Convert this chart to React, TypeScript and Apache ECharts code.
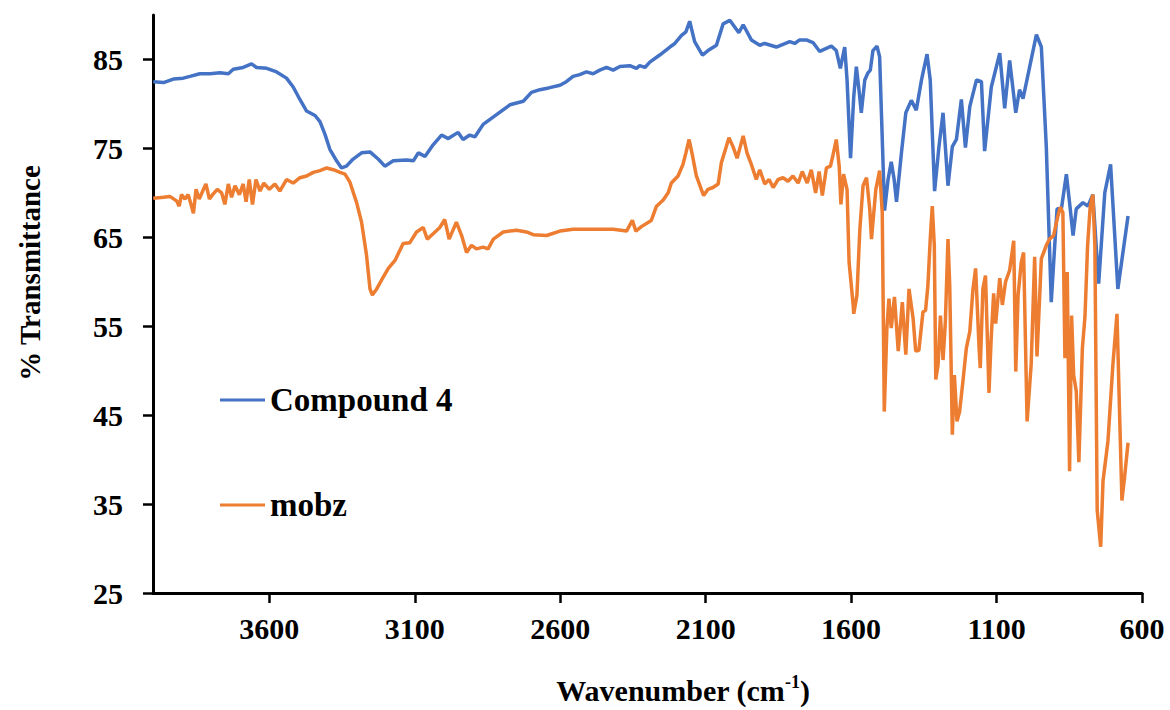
import React, { useEffect, useRef } from "react";
import * as echarts from "echarts";

// Compound 4 (blue) — wavenumber (cm-1) and % transmittance
const compoundWn = [
  3999, 3964, 3930, 3896, 3873, 3839, 3804, 3770, 3741, 3724, 3690, 3661, 3644, 3609, 3575, 3541, 3518, 3495, 3472, 3443,
  3426, 3409, 3392, 3369, 3352, 3335, 3312, 3283, 3254, 3226, 3203, 3174, 3128, 3105, 3088, 3065, 3037, 3008, 2985, 2951,
  2934, 2911, 2893, 2865, 2819, 2773, 2727, 2699, 2670, 2640, 2601, 2579, 2556, 2533, 2510, 2487, 2464, 2441, 2418, 2395,
  2361, 2338, 2327, 2309, 2292, 2258, 2223, 2206, 2183, 2168, 2155, 2138, 2111, 2092, 2063, 2040, 2017, 1986, 1971, 1943,
  1914, 1897, 1857, 1834, 1811, 1794, 1777, 1754, 1731, 1708, 1668, 1651, 1637, 1622, 1614, 1602, 1591, 1582, 1573, 1565,
  1553, 1542, 1534, 1525, 1511, 1502, 1485, 1473, 1462, 1452, 1444, 1427, 1412, 1393, 1376, 1358, 1339, 1328, 1313, 1298,
  1284, 1267, 1252, 1238, 1221, 1207, 1192, 1169, 1152, 1141, 1118, 1089, 1072, 1055, 1034, 1021, 1009, 986, 963, 946,
  929, 912, 900, 892, 877, 860, 849, 837, 826, 803, 786, 769, 749, 728, 708, 683, 648
];
const compoundT = [
  82.5, 82.4, 82.8, 82.9, 83.1, 83.4, 83.4, 83.5, 83.4, 83.9, 84.1, 84.5, 84.1, 84.0, 83.6, 82.9, 81.9, 80.5, 79.2, 78.7,
  78.0, 76.6, 74.9, 73.6, 72.8, 73.0, 73.8, 74.5, 74.6, 73.8, 73.0, 73.6, 73.7, 73.6, 74.5, 74.1, 75.4, 76.5, 76.1, 76.8,
  76.0, 76.5, 76.3, 77.7, 78.8, 79.9, 80.3, 81.3, 81.6, 81.8, 82.1, 82.5, 83.1, 83.3, 83.6, 83.4, 83.8, 84.1, 83.8, 84.2,
  84.3, 84.0, 84.3, 84.1, 84.7, 85.5, 86.4, 86.8, 87.7, 88.1, 89.3, 87.0, 85.5, 86.0, 86.6, 89.0, 89.4, 88.0, 88.9, 87.2,
  86.6, 86.8, 86.4, 86.7, 87.0, 86.8, 87.2, 87.2, 86.9, 85.9, 86.5, 86.0, 84.0, 86.4, 82.7, 73.9, 80.8, 84.2, 81.6, 79.0,
  82.7, 83.5, 83.8, 86.0, 86.5, 85.3, 68.0, 71.5, 73.5, 71.5, 69.0, 74.5, 79.0, 80.4, 79.3, 82.7, 85.6, 82.7, 70.2, 75.2,
  79.0, 70.8, 75.2, 76.0, 80.5, 75.1, 79.7, 82.7, 82.5, 74.7, 81.9, 85.7, 79.5, 84.9, 79.0, 81.6, 80.6, 84.2, 87.8, 86.4,
  75.2, 57.7, 64.1, 68.2, 68.2, 72.1, 68.9, 65.2, 68.2, 68.9, 68.5, 69.8, 59.8, 70.0, 73.2, 59.2, 67.4
];

// mobz (orange)
const mobzWn = [
  3999, 3964, 3942, 3919, 3910, 3902, 3890, 3879, 3871, 3861, 3852, 3841, 3829, 3818, 3806, 3795, 3779, 3764, 3753, 3741,
  3730, 3718, 3703, 3690, 3680, 3669, 3658, 3646, 3632, 3619, 3600, 3581, 3564, 3541, 3518, 3495, 3472, 3449, 3426, 3403,
  3380, 3357, 3340, 3323, 3300, 3283, 3266, 3254, 3246, 3231, 3214, 3191, 3168, 3140, 3117, 3094, 3071, 3057, 3037, 3014,
  2997, 2982, 2957, 2939, 2922, 2905, 2888, 2865, 2848, 2830, 2796, 2750, 2716, 2693, 2647, 2601, 2556, 2510, 2464, 2418,
  2372, 2352, 2340, 2321, 2287, 2269, 2246, 2229, 2218, 2195, 2178, 2168, 2157, 2146, 2132, 2115, 2107, 2092, 2075, 2057,
  2046, 2029, 2020, 2006, 1992, 1981, 1971, 1958, 1943, 1926, 1914, 1897, 1882, 1868, 1851, 1834, 1817, 1800, 1782, 1768,
  1751, 1737, 1722, 1710, 1699, 1685, 1671, 1662, 1651, 1641, 1635, 1626, 1614, 1607, 1593, 1591, 1580, 1570, 1559, 1547,
  1536, 1530, 1515, 1502, 1493, 1486, 1477, 1470, 1462, 1451, 1438, 1424, 1412, 1401, 1387, 1378, 1367, 1353, 1344, 1336,
  1328, 1321, 1314, 1309, 1301, 1293, 1284, 1276, 1267, 1261, 1252, 1245, 1236, 1227, 1215, 1204, 1192, 1181, 1172, 1160,
  1156, 1147, 1138, 1126, 1119, 1110, 1103, 1089, 1080, 1069, 1055, 1041, 1034, 1026, 1015, 1007, 995, 981, 969, 961,
  946, 929, 918, 904, 889, 881, 872, 865, 857, 849, 842, 835, 826, 817, 805, 796, 787, 778, 769, 762,
  754, 742, 734, 717, 700, 686, 677, 669, 660, 648
];
const mobzT = [
  69.4, 69.5, 69.6, 69.1, 68.5, 69.8, 69.3, 69.8, 68.9, 67.7, 70.4, 69.3, 70.2, 71.0, 69.3, 69.8, 70.4, 70.0, 68.7, 71.0,
  69.5, 70.8, 69.8, 71.0, 69.0, 71.5, 68.7, 71.5, 70.2, 71.1, 70.4, 71.0, 70.2, 71.5, 71.1, 71.7, 71.9, 72.3, 72.5, 72.8,
  72.6, 72.3, 72.1, 71.2, 68.9, 66.7, 63.0, 59.2, 58.5, 59.2, 60.2, 61.5, 62.4, 64.3, 64.4, 65.6, 66.1, 64.8, 65.4, 66.1,
  67.0, 64.8, 66.7, 65.2, 63.3, 64.1, 63.7, 63.9, 63.7, 64.8, 65.6, 65.8, 65.6, 65.3, 65.2, 65.7, 65.9, 65.9, 65.9, 65.9,
  65.7, 66.9, 65.7, 66.2, 66.9, 68.5, 69.2, 70.0, 71.1, 71.9, 73.2, 74.5, 76.0, 74.3, 71.9, 70.4, 69.7, 70.4, 70.6, 71.0,
  73.4, 75.2, 76.2, 75.2, 73.9, 75.2, 76.4, 74.5, 73.2, 71.5, 72.6, 71.0, 71.5, 70.6, 71.5, 71.7, 71.3, 71.9, 71.1, 72.4,
  71.1, 72.6, 70.0, 72.4, 69.7, 72.8, 73.0, 74.3, 76.0, 73.0, 68.7, 72.1, 70.4, 62.2, 57.4, 56.4, 58.5, 65.9, 70.8, 71.7,
  68.2, 64.8, 70.4, 72.5, 67.8, 45.4, 54.8, 58.1, 54.8, 58.3, 52.2, 57.7, 51.8, 59.2, 55.9, 52.2, 52.3, 56.6, 56.8, 59.6,
  64.8, 68.5, 64.1, 49.0, 50.7, 56.2, 51.2, 55.5, 64.8, 59.6, 42.8, 49.5, 44.3, 45.4, 49.0, 52.5, 54.4, 59.2, 61.5, 52.5,
  50.3, 59.2, 60.7, 47.5, 53.3, 58.7, 55.3, 60.4, 57.4, 60.0, 61.3, 64.6, 49.9, 58.5, 62.2, 63.3, 44.3, 50.7, 62.8, 51.6,
  62.6, 64.1, 64.8, 65.2, 67.4, 68.4, 67.8, 51.4, 61.1, 38.7, 56.2, 49.5, 47.7, 39.7, 52.5, 56.1, 64.1, 68.5, 69.8, 64.1,
  34.3, 30.2, 37.6, 42.1, 50.7, 56.4, 45.1, 35.4, 38.0, 41.9
];

const xTicks = [600, 1100, 1600, 2100, 2600, 3100, 3600];
const yTicks = [25, 35, 45, 55, 65, 75, 85];
const seriesNames = ["Compound 4", "mobz"];

const FONT = "'Liberation Serif', 'DejaVu Serif', serif";

export default function App() {
  const ref = useRef<HTMLDivElement>(null);
  useEffect(() => {
    document.body.style.margin = "0";
    if (!ref.current) return;
    const chart = echarts.init(ref.current, undefined, { renderer: "svg" });
    const blue = compoundWn.map((w, i) => [w, compoundT[i]]);
    const orange = mobzWn.map((w, i) => [w, mobzT[i]]);
    const legendText = { fontFamily: FONT, fontWeight: "bold", fontSize: 33, color: "#000", lineHeight: 36 };
    chart.setOption({
      animation: false,
      backgroundColor: "#fff",
      grid: { left: 153, right: 28, top: 15, bottom: 117, containLabel: false },
      legend: [
        {
          data: [seriesNames[0]], left: 220, top: 382, padding: 0, itemWidth: 45, itemHeight: 3, itemGap: 5,
          icon: "rect", textStyle: legendText,
        },
        {
          data: [seriesNames[1]], left: 220, top: 487, padding: 0, itemWidth: 45, itemHeight: 3, itemGap: 5,
          icon: "rect", textStyle: legendText,
        },
      ],
      xAxis: {
        type: "value",
        inverse: true,
        min: 600,
        max: 4000,
        axisLine: { show: true, lineStyle: { color: "#000", width: 3 } },
        axisTick: { show: true, length: 10, lineStyle: { color: "#000", width: 2.5 }, customValues: xTicks },
        axisLabel: {
          customValues: xTicks, margin: 20, color: "#000", fontFamily: FONT, fontWeight: "bold", fontSize: 30,
          formatter: (v: number) => String(v),
        },
        splitLine: { show: false },
      },
      yAxis: {
        type: "value",
        min: 25,
        max: 90,
        axisLine: { show: true, lineStyle: { color: "#000", width: 3 } },
        axisTick: { show: true, length: 10, lineStyle: { color: "#000", width: 2.5 }, customValues: yTicks },
        axisLabel: {
          customValues: yTicks, margin: 30, color: "#000", fontFamily: FONT, fontWeight: "bold", fontSize: 30,
          formatter: (v: number) => String(v),
        },
        splitLine: { show: false },
      },
      graphic: [
        {
          type: "text",
          x: 30,
          y: 273,
          rotation: Math.PI / 2,
          style: {
            text: "% Transmittance", fontFamily: FONT, fontWeight: "bold", fontSize: 29, fill: "#000",
            textAlign: "center", textVerticalAlign: "middle",
          },
        },
        {
          type: "text",
          x: 683,
          y: 690,
          style: {
            text: "{a|Wavenumber (cm}{s|-1}{a|)}",
            textAlign: "center",
            textVerticalAlign: "middle",
            rich: {
              a: { fontFamily: FONT, fontWeight: "bold", fontSize: 30, fill: "#000", lineHeight: 34 },
              s: { fontFamily: FONT, fontWeight: "bold", fontSize: 18, fill: "#000", lineHeight: 34, verticalAlign: "top", padding: [0, 0, 14, 0] },
            },
          },
        },
      ],
      series: [
        {
          name: seriesNames[0], type: "line", data: blue, symbol: "none", smooth: false,
          lineStyle: { color: "#4472C4", width: 3.5 }, itemStyle: { color: "#4472C4" },
        },
        {
          name: seriesNames[1], type: "line", data: orange, symbol: "none", smooth: false,
          lineStyle: { color: "#ED7D31", width: 3.5 }, itemStyle: { color: "#ED7D31" },
        },
      ],
    });
    return () => chart.dispose();
  }, []);
  return <div ref={ref} style={{ width: 1170, height: 710 }} />;
}
